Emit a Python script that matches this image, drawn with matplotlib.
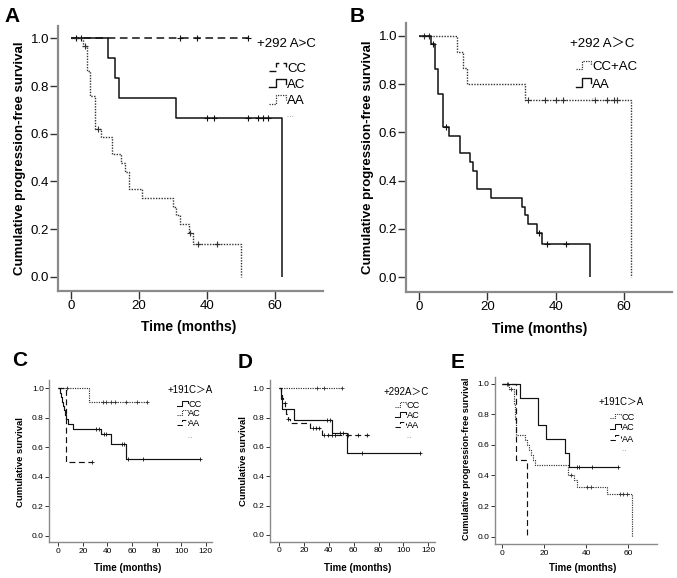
import numpy as np
import matplotlib
matplotlib.use('Agg')
import matplotlib.pyplot as plt
from matplotlib.lines import Line2D
from matplotlib.ticker import FormatStrFormatter

plt.rcParams['font.family'] = ['Liberation Sans', 'Noto Sans CJK SC', 'DejaVu Sans']

W, H = 677, 578

# ---------------------------------------------------------------------------
# Data: event times, survival after each event,
# censor times and last follow-up (months)
# ---------------------------------------------------------------------------

# +292 A>C, progression-free survival (panels A and B)
cc292_t, cc292_s = [], []
cc292_cens = [1.5, 3, 32, 37, 52]
cc292_end = 52

ac292_t = [11, 13, 14, 31, 62]
ac292_s = [0.917, 0.833, 0.75, 0.667, 0.0]
ac292_cens = [40, 42, 52, 55, 56.5, 58]
ac292_end = 62

aa292_t = [3.5, 4.7, 5.7, 7, 8.8, 12, 14.8, 15.8, 17, 21, 30, 30.9, 32, 34.6, 36, 50]
aa292_s = [0.966, 0.862, 0.759, 0.621, 0.586, 0.513, 0.476, 0.44, 0.367, 0.33,
           0.293, 0.257, 0.22, 0.183, 0.137, 0.0]
aa292_cens = [4.1, 8, 35, 37.5, 43]
aa292_end = 50

ccac292_t = [11, 13, 14, 31, 62]
ccac292_s = [0.933, 0.867, 0.80, 0.733, 0.0]
ccac292_cens = [1.5, 3, 32, 37, 40, 42, 51.6, 55, 57, 58]
ccac292_end = 62

# +191C>A, overall survival (panel C)
cc191os_t = [1.4, 2.2, 3, 3.8, 4.6, 5.4, 6.3, 8.2, 11.7, 34.5, 43, 55.5]
cc191os_s = [0.97, 0.94, 0.91, 0.88, 0.85, 0.82, 0.79, 0.76, 0.725, 0.69, 0.625, 0.52]
cc191os_cens = [31, 33.5, 37, 39, 51.5, 53.5, 57, 69, 115.5]
cc191os_end = 115.5

ac191os_t = [25.3]
ac191os_s = [0.909]
ac191os_cens = [6.8, 36.7, 38.9, 42.7, 46.2, 55.2, 64.4, 72]
ac191os_end = 73

aa191os_t = [6.3]
aa191os_s = [0.5]
aa191os_cens = [27.5]
aa191os_end = 27.5

# +292A>C, overall survival (panel D)
cc292os_t, cc292os_s = [], []
cc292os_cens = [30.3, 36.4, 50.9]
cc292os_end = 51

ac292os_t = [1.6, 2.6, 12.3, 42.9, 55]
ac292os_s = [0.929, 0.857, 0.786, 0.698, 0.559]
ac292os_cens = [38.3, 41, 49, 51.7, 67, 113.5]
ac292os_end = 113.5

aa292os_t = [1.6, 2.5, 3.5, 5, 6, 7, 8.5, 25, 34.8]
aa292os_s = [0.966, 0.931, 0.897, 0.862, 0.828, 0.793, 0.766, 0.73, 0.683]
aa292os_cens = [4.8, 7.2, 27, 29.5, 32, 36.4, 39.6, 42.3, 45, 55.2, 63.8, 70.5]
aa292os_end = 72

# +191C>A, progression-free survival (panel E)
cc191_t = [3.5, 5.5, 6.0, 6.8, 11, 12, 13, 13.8, 14.9, 15.7, 31.5, 34.4, 35.5, 49.7, 62]
cc191_s = [0.967, 0.867, 0.767, 0.667, 0.633, 0.6, 0.567, 0.533, 0.5, 0.467,
           0.40, 0.367, 0.327, 0.276, 0.0]
cc191_cens = [2.2, 3.0, 4.1, 32.8, 40.5, 42.1, 56, 57.7, 59.3]
cc191_end = 62

ac191_t = [8.5, 17, 21, 30, 31.8]
ac191_s = [0.909, 0.727, 0.636, 0.545, 0.455]
ac191_cens = [35.5, 36.7, 43, 55.3]
ac191_end = 55.3

aa191_t = [6.8, 12]
aa191_s = [0.5, 0.0]
aa191_cens = []
aa191_end = 12

y_ticks = [0.0, 0.2, 0.4, 0.6, 0.8, 1.0]
x_ticks_pfs = [0, 20, 40, 60]
x_ticks_os = [0, 20, 40, 60, 80, 100, 120]

# ---------------------------------------------------------------------------
# line styles
# ---------------------------------------------------------------------------
STY_BIG = {
    'solid': dict(ls='-', lw=1.1, color='#111111'),
    'dashed': dict(ls=(0, (5, 3)), lw=1.1, color='#111111'),
    'dotted': dict(ls=(0, (1, 1)), lw=1.0, color='#333333'),
}
STY_SMALL = {
    'solid': dict(ls='-', lw=0.85, color='#111111'),
    'dashed': dict(ls=(0, (5, 3)), lw=0.85, color='#111111'),
    'dotted': dict(ls=(0, (1, 1)), lw=0.85, color='#333333'),
}


def fx(x):
    return x / W


def fy(y):
    return 1 - y / H


def add_axes(fig, left, top, right, bottom):
    return fig.add_axes([fx(left), fy(bottom), fx(right) - fx(left), fy(top) - fy(bottom)])


def style_axes(ax, xlim, ylim, xticks, big):
    ax.set_xlim(*xlim)
    ax.set_ylim(*ylim)
    ax.patch.set_visible(False)
    for s in ['top', 'right']:
        ax.spines[s].set_visible(False)
    for s in ['left', 'bottom']:
        ax.spines[s].set_color('#8a8a8a')
        ax.spines[s].set_linewidth(1.6 if big else 1.0)
    ax.set_xticks(xticks)
    ax.set_yticks(y_ticks)
    ax.yaxis.set_major_formatter(FormatStrFormatter('%.1f'))
    if big:
        ax.tick_params(direction='out', length=5.5, width=1.0, color='#333333',
                       labelsize=9.5, pad=1)
    else:
        ax.tick_params(direction='out', length=3, width=0.7, color='#333333',
                       labelsize=6, pad=1)


def km(ax, times, surv, cens, end, style, big):
    xs = [0] + list(times) + [end]
    ys = [1.0] + list(surv) + [surv[-1] if surv else 1.0]
    ax.plot(xs, ys, drawstyle='steps-post', solid_capstyle='butt', **style)
    if cens:
        idx = np.searchsorted(np.asarray(times, dtype=float), cens, side='right')
        levels = np.r_[1.0, surv][idx]
        ax.plot(cens, levels, ls='none', marker='+', color=style['color'],
                ms=5 if big else 3, mew=0.8 if big else 0.6)


def key(fig, x0, x1, yc, style, scale):
    xm = x0 + 0.45 * (x1 - x0)
    xs = [x0, xm, xm, x1, x1]
    ys = [yc + 2 * scale, yc + 2 * scale, yc - 6.5 * scale, yc - 6.5 * scale, yc - 2 * scale]
    st = dict(style)
    st['lw'] = st['lw'] * 0.9
    fig.add_artist(Line2D([fx(v) for v in xs], [fy(v) for v in ys],
                          transform=fig.transFigure, **st))


def censor_key(fig, x0, x1, yc):
    fig.add_artist(Line2D([fx(x0), fx(x1)], [fy(yc), fy(yc)], transform=fig.transFigure,
                          ls=(0, (1, 1.5)), lw=0.7, color='#aaaaaa'))


def legend(fig, title, tx, ty, entries, kx0, kx1, textx, ys, fs_t, fs_e, scale, cy, cw):
    fig.text(fx(tx), fy(ty), title, fontsize=fs_t, ha='left', va='center')
    for (lab, st), y in zip(entries, ys):
        key(fig, kx0, kx1, y, st, scale)
        fig.text(fx(textx), fy(y), lab, fontsize=fs_e, ha='left', va='center')
    censor_key(fig, textx, textx + cw, cy)


fig = plt.figure(figsize=(W / 100, H / 100), dpi=100)

# ---------------------------------------------------------------------------
# Panel A
# ---------------------------------------------------------------------------
axA = add_axes(fig, 58, 25.7, 322.6, 291)
style_axes(axA, (-3.8, 74), (-0.06, 1.053), x_ticks_pfs, True)
km(axA, cc292_t, cc292_s, cc292_cens, cc292_end, STY_BIG['dashed'], True)
km(axA, ac292_t, ac292_s, ac292_cens, ac292_end, STY_BIG['solid'], True)
km(axA, aa292_t, aa292_s, aa292_cens, aa292_end, STY_BIG['dotted'], True)
fig.text(fx(20), fy(158), 'Cumulative progression-free survival', rotation=90,
         fontsize=9.5, fontweight='bold', ha='center', va='center')
fig.text(fx(189), fy(327), 'Time (months)', fontsize=10, fontweight='bold',
         ha='center', va='center')
legend(fig, '+292 A>C', 257, 44,
       [('CC', STY_BIG['dashed']), ('AC', STY_BIG['solid']), ('AA', STY_BIG['dotted'])],
       269, 285.5, 287, [69, 85.5, 101.5], 9.5, 9.5, 1.0, 116, 6)

# ---------------------------------------------------------------------------
# Panel B
# ---------------------------------------------------------------------------
axB = add_axes(fig, 406, 22.9, 672, 291.8)
style_axes(axB, (-3.8, 74), (-0.06, 1.053), x_ticks_pfs, True)
km(axB, ccac292_t, ccac292_s, ccac292_cens, ccac292_end, STY_BIG['dotted'], True)
km(axB, aa292_t, aa292_s, aa292_cens, aa292_end, STY_BIG['solid'], True)
fig.text(fx(368), fy(157), 'Cumulative progression-free survival', rotation=90,
         fontsize=9.5, fontweight='bold', ha='center', va='center')
fig.text(fx(540), fy(329), 'Time (months)', fontsize=10, fontweight='bold',
         ha='center', va='center')
legend(fig, '+292 A\uff1eC', 570, 44,
       [('CC+AC', STY_BIG['dotted']), ('AA', STY_BIG['solid'])],
       575.5, 591, 592, [67, 84.5], 9.5, 9.5, 1.0, 98, 5)

# ---------------------------------------------------------------------------
# Panel C
# ---------------------------------------------------------------------------
axC = add_axes(fig, 49.3, 380, 211.8, 542.3)
style_axes(axC, (-7.3, 125), (-0.045, 1.056), x_ticks_os, False)
km(axC, cc191os_t, cc191os_s, cc191os_cens, cc191os_end, STY_SMALL['solid'], False)
km(axC, ac191os_t, ac191os_s, ac191os_cens, ac191os_end, STY_SMALL['dotted'], False)
km(axC, aa191os_t, aa191os_s, aa191os_cens, aa191os_end, STY_SMALL['dashed'], False)
fig.text(fx(21), fy(462), 'Cumulative survival', rotation=90,
         fontsize=6.8, fontweight='bold', ha='center', va='center')
fig.text(fx(128), fy(568), 'Time (months)', fontsize=7, fontweight='bold',
         ha='center', va='center')
legend(fig, '+191C\uff1eA', 168, 389.5,
       [('CC', STY_SMALL['solid']), ('AC', STY_SMALL['dotted']), ('AA', STY_SMALL['dashed'])],
       177, 187.5, 188.3, [404.5, 414, 423.5], 7, 6.6, 0.55, 437, 4)

# ---------------------------------------------------------------------------
# Panel D
# ---------------------------------------------------------------------------
axD = add_axes(fig, 269.9, 380.1, 434.5, 541.6)
style_axes(axD, (-7.3, 125), (-0.045, 1.056), x_ticks_os, False)
km(axD, cc292os_t, cc292os_s, cc292os_cens, cc292os_end, STY_SMALL['dotted'], False)
km(axD, ac292os_t, ac292os_s, ac292os_cens, ac292os_end, STY_SMALL['solid'], False)
km(axD, aa292os_t, aa292os_s, aa292os_cens, aa292os_end, STY_SMALL['dashed'], False)
fig.text(fx(244), fy(461), 'Cumulative survival', rotation=90,
         fontsize=6.8, fontweight='bold', ha='center', va='center')
fig.text(fx(357.5), fy(568), 'Time (months)', fontsize=7, fontweight='bold',
         ha='center', va='center')
legend(fig, '+292A\uff1eC', 384, 391.5,
       [('CC', STY_SMALL['dotted']), ('AC', STY_SMALL['solid']), ('AA', STY_SMALL['dashed'])],
       395, 406, 406.7, [405.5, 415.5, 426], 7, 6.6, 0.55, 437, 4)

# ---------------------------------------------------------------------------
# Panel E
# ---------------------------------------------------------------------------
axE = add_axes(fig, 495, 376.7, 657.3, 544.3)
style_axes(axE, (-3.3, 73.8), (-0.05, 1.045), x_ticks_pfs, False)
km(axE, cc191_t, cc191_s, cc191_cens, cc191_end, STY_SMALL['dotted'], False)
km(axE, ac191_t, ac191_s, ac191_cens, ac191_end, STY_SMALL['solid'], False)
km(axE, aa191_t, aa191_s, aa191_cens, aa191_end, STY_SMALL['dashed'], False)
fig.text(fx(467), fy(459), 'Cumulative progression-free survival', rotation=90,
         fontsize=6.6, fontweight='bold', ha='center', va='center')
fig.text(fx(583), fy(568), 'Time (months)', fontsize=7, fontweight='bold',
         ha='center', va='center')
legend(fig, '+191C\uff1eA', 599, 401.7,
       [('CC', STY_SMALL['dotted']), ('AC', STY_SMALL['solid']), ('AA', STY_SMALL['dashed'])],
       610, 621, 621.7, [417.3, 428, 439], 7, 6.6, 0.55, 450, 4)

# panel letters
for lab, x, y in [('A', 4, 22), ('B', 350, 22), ('C', 12, 366), ('D', 238, 368), ('E', 451, 368)]:
    fig.text(fx(x), fy(y), lab, fontsize=15, fontweight='bold', ha='left', va='baseline')

fig.savefig('out.png', dpi=100)
